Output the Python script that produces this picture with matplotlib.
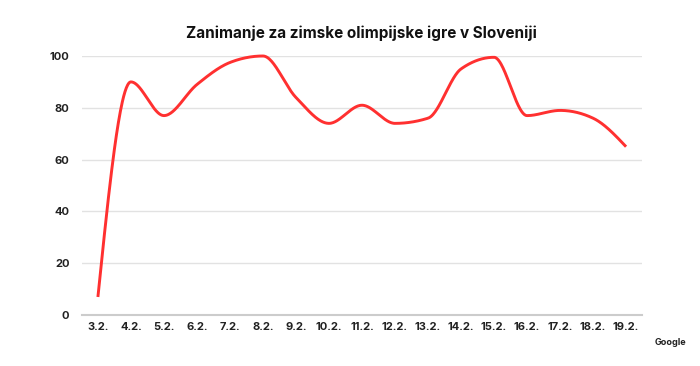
import numpy as np
import matplotlib.pyplot as plt

days = ["3.2.", "4.2.", "5.2.", "6.2.", "7.2.", "8.2.", "9.2.", "10.2.", "11.2.",
        "12.2.", "13.2.", "14.2.", "15.2.", "16.2.", "17.2.", "18.2.", "19.2."]
interest = [7, 90, 77, 89, 97.5, 100, 84, 74, 81, 74, 76, 95, 99.5, 77, 79, 76, 65]
yticks = [0, 20, 40, 60, 80, 100]


def monotone_x(x, y, xs):
    # same idea as d3.curveMonotoneX, gives the smooth line
    x = np.asarray(x, float)
    y = np.asarray(y, float)
    n = len(x)
    h = np.diff(x)
    s = np.diff(y) / h
    m = np.zeros(n)
    for k in range(1, n - 1):
        p = (s[k - 1] * h[k] + s[k] * h[k - 1]) / (h[k - 1] + h[k])
        m[k] = (np.sign(s[k - 1]) + np.sign(s[k])) * min(abs(s[k - 1]), abs(s[k]), 0.5 * abs(p))
    m[0] = (3 * s[0] - m[1]) / 2
    m[-1] = (3 * s[-1] - m[-2]) / 2
    idx = np.clip(np.searchsorted(x, xs) - 1, 0, n - 2)
    t = (xs - x[idx]) / h[idx]
    h00 = 2 * t**3 - 3 * t**2 + 1
    h10 = t**3 - 2 * t**2 + t
    h01 = -2 * t**3 + 3 * t**2
    h11 = t**3 - t**2
    return (h00 * y[idx] + h10 * h[idx] * m[idx] +
            h01 * y[idx + 1] + h11 * h[idx] * m[idx + 1])


plt.rcParams['font.family'] = ['Inter', 'DejaVu Sans']

fig = plt.figure(figsize=(7, 3.66), dpi=100)
ax = fig.add_axes([0.117, 0.139, 0.8, 0.708])

xpos = np.arange(len(days))
xs = np.linspace(0, len(days) - 1, 800)
ax.plot(xs, monotone_x(xpos, interest, xs), color="#ff3030", lw=2.1,
        solid_capstyle="butt", clip_on=False, zorder=3)

ax.set_xlim(-0.485, 16.48)
ax.set_ylim(0, 100)
ax.set_yticks(yticks)
ax.set_xticks(xpos)
ax.set_xticklabels(days)
ax.grid(axis="y", color="#e2e2e2", lw=1)
ax.set_axisbelow(True)
for s in ["top", "right", "left"]:
    ax.spines[s].set_visible(False)
ax.spines["bottom"].set_color("#cccccc")
ax.spines["bottom"].set_linewidth(1.5)
ax.tick_params(length=0, labelsize=8, colors="#222222")
ax.tick_params(axis="y", pad=9)
ax.tick_params(axis="x", pad=5)
for lab in ax.get_xticklabels() + ax.get_yticklabels():
    lab.set_fontweight("bold")

fig.text(0.517, 0.91, "Zanimanje za zimske olimpijske igre v Sloveniji",
         ha="center", va="center", fontsize=11, fontweight="bold", color="#111111")
fig.text(0.98, 0.065, "Google", ha="right", va="center", fontsize=6.5,
         fontweight="bold", color="#222222")

fig.savefig("out.png", dpi=100, facecolor="white")
